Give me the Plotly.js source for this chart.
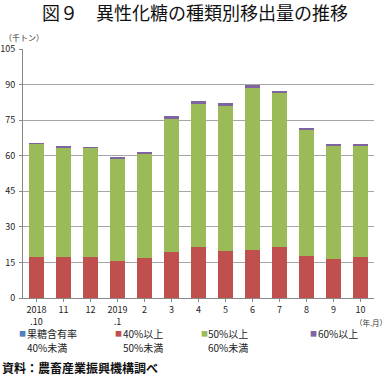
<!DOCTYPE html>
<html><head><meta charset="utf-8">
<script src="https://cdn.plot.ly/plotly-3.0.1.min.js"></script>
<style>html,body{margin:0;padding:0;background:#fff}#c{width:390px;height:375px}</style>
</head><body><div id="c"></div>
<script>
const categories = ["2018<br>.10","11","12","2019<br>.1","2","3","4","5","6","7","8","9","10"];
const seriesNames = ["果糖含有率<br>40%未満","40%以上<br>50%未満","50%以上<br>60%未満","60%以上"];
const below40 = [0,0,0,0,0,0,0,0,0,0,0,0,0];
const from40to50 = [17.5,17.5,17.5,15.5,16.8,19.5,21.7,19.9,20.3,21.7,17.8,16.5,17.5];
const from50to60 = [47.3,45.9,45.9,43.2,44.1,56.1,60.2,60.9,68.4,64.7,53.2,47.5,46.5];
const over60 = [0.6,0.9,0.4,0.8,0.6,1.3,1.3,1.5,1.3,1.1,0.7,0.8,0.9];
const yTicks = [0,15,30,45,60,75,90,105];

const colors = ["#4f81bd","#c0504d","#9bbb59","#8064a2"];
const vals = [below40, from40to50, from50to60, over60];
const idx = categories.map((c,i)=>i);
const traces = vals.map((v,k)=>({
  type:'bar', x: idx, y: v, name: seriesNames[k],
  marker:{color: colors[k], line:{width:0}}, hoverinfo:'y'
}));

const L=23, R=374, T=49, B=298;
const px = x => (x-L)/(R-L);
const py = y => (B-y)/(B-T);
const font = "'Noto Sans CJK JP', 'Noto Sans', sans-serif";
const ann = [];
ann.push({xref:'paper',yref:'paper',x:px(2),y:py(37),xanchor:'left',yanchor:'middle',text:'（千トン）',showarrow:false,font:{size:8,color:'#333',family:font}});
ann.push({xref:'paper',yref:'paper',x:px(389),y:py(322),xanchor:'right',yanchor:'middle',text:'（年.月）',showarrow:false,font:{size:7.5,color:'#333',family:font}});
const legX = [22.7,118.3,204,313];
const legLines = [["果糖含有率","40%未満"],["40%以上","50%未満"],["50%以上","60%未満"],["60%以上",""]];
legX.forEach((x,k)=>{
  ann.push({xref:'paper',yref:'paper',x:px(x),y:py(333),xanchor:'center',yanchor:'middle',text:'■',showarrow:false,font:{size:7,color:colors[k],family:font}});
  ann.push({xref:'paper',yref:'paper',x:px(x+2.5),y:py(333),xanchor:'left',yanchor:'middle',text:legLines[k][0],showarrow:false,font:{size:10,color:'#222',family:font}});
  if(legLines[k][1]) ann.push({xref:'paper',yref:'paper',x:px(x+2.5),y:py(347),xanchor:'left',yanchor:'middle',text:legLines[k][1],showarrow:false,font:{size:10,color:'#222',family:font}});
});
ann.push({xref:'paper',yref:'paper',x:px(0),y:py(367),xanchor:'left',yanchor:'middle',text:'<b>資料：農畜産業振興機構調べ</b>',showarrow:false,font:{size:12,color:'#111',family:font}});

const layout = {
  width:390, height:375,
  margin:{l:L, r:390-R, t:T, b:375-B},
  paper_bgcolor:'#fff', plot_bgcolor:'#fff',
  barmode:'stack', bargap:0.45, showlegend:false,
  title:{text:'図９　異性化糖の種類別移出量の推移', x:0.5, xanchor:'center', y:1-14/375, yanchor:'middle', font:{size:18,color:'#111',family:font}},
  xaxis:{tickmode:'array', tickvals:idx, ticktext:categories, range:[-0.5,12.5],
    showline:true, linecolor:'#888', linewidth:1, ticks:'outside', tickson:'boundaries', ticklen:3, tickcolor:'#888',
    showgrid:false, tickfont:{size:9,color:'#222',family:font}, fixedrange:true},
  yaxis:{range:[0,105], tickvals:yTicks, showline:true, linecolor:'#888', linewidth:1,
    ticks:'outside', ticklen:3, tickcolor:'#888', showgrid:true, gridcolor:'#a6a6a6', gridwidth:1,
    zeroline:false, tickfont:{size:9,color:'#222',family:font}, ticklabelstandoff:2, fixedrange:true},
  annotations: ann
};
Plotly.newPlot('c', traces, layout, {displayModeBar:false, staticPlot:true});
</script></body></html>
